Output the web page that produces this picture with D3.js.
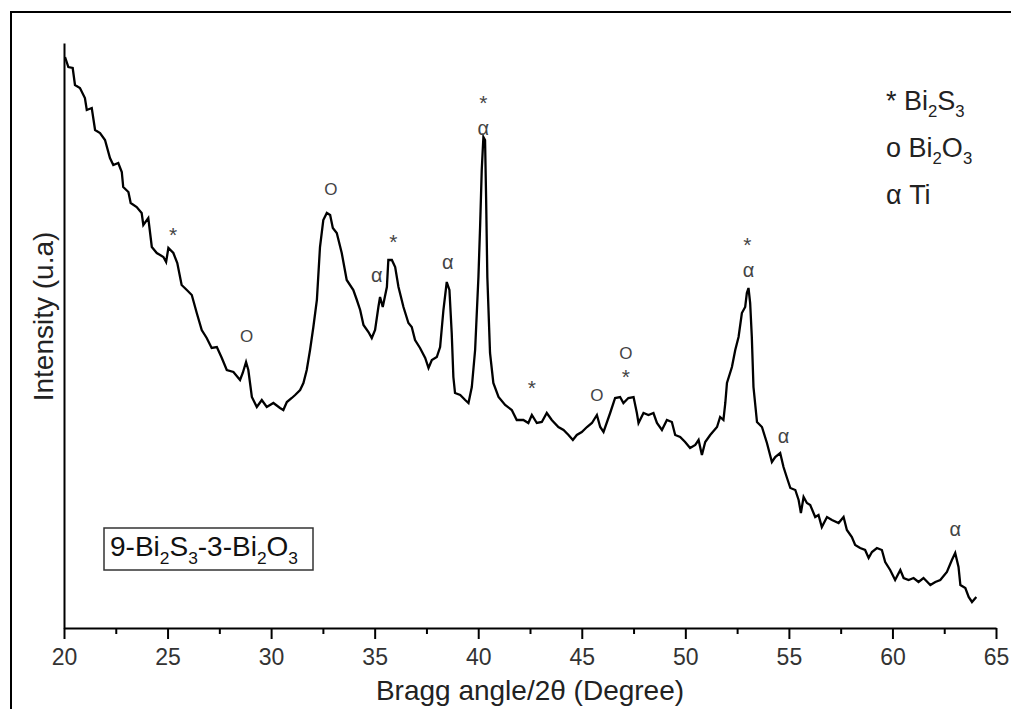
<!DOCTYPE html>
<html>
<head>
<meta charset="utf-8">
<script src="https://cdn.jsdelivr.net/npm/d3@7/dist/d3.min.js"></script>
<style>
  html, body { margin: 0; padding: 0; background: #fff; }
  svg { display: block; font-family: Arial, "Liberation Sans", sans-serif; }
</style>
</head>
<body>
<svg id="chart" width="1011" height="709"></svg>
<script>
// XRD pattern of the 9-Bi2S3-3-Bi2O3 sample (2θ in degrees, intensity in a.u.)
const angle = [
  20.05, 20.21, 20.42, 20.53, 20.77, 21.01, 21.10, 21.34, 21.50, 21.74,
  21.98, 22.22, 22.38, 22.62, 22.79, 22.86, 23.11, 23.22, 23.51, 23.75,
  23.83, 24.07, 24.24, 24.48, 24.80, 24.93, 25.04, 25.28, 25.47, 25.68,
  25.93, 26.17, 26.41, 26.65, 26.89, 27.13, 27.38, 27.62, 27.86, 28.18,
  28.50, 28.63, 28.79, 28.90, 29.07, 29.31, 29.55, 29.79, 30.11, 30.43,
  30.59, 30.76, 31.00, 31.16, 31.40, 31.56, 31.72, 31.88, 32.04, 32.21,
  32.36, 32.52, 32.69, 32.85, 32.98, 33.17, 33.41, 33.65, 33.97, 34.14,
  34.30, 34.46, 34.70, 34.86, 35.02, 35.18, 35.26, 35.39, 35.59, 35.66,
  35.83, 35.99, 36.15, 36.39, 36.63, 36.79, 36.95, 37.19, 37.44, 37.60,
  37.76, 38.00, 38.16, 38.32, 38.48, 38.61, 38.72, 38.80, 38.88, 39.13,
  39.37, 39.53, 39.69, 39.85, 40.01, 40.09, 40.17, 40.25, 40.33, 40.38,
  40.44, 40.57, 40.73, 40.98, 41.30, 41.62, 41.86, 42.18, 42.42, 42.59,
  42.83, 43.07, 43.31, 43.55, 43.87, 44.12, 44.36, 44.57, 44.76, 45.00,
  45.25, 45.49, 45.73, 45.89, 46.05, 46.37, 46.61, 46.85, 47.01, 47.25,
  47.50, 47.66, 47.74, 47.98, 48.22, 48.46, 48.63, 48.87, 49.11, 49.35,
  49.51, 49.75, 49.99, 50.23, 50.48, 50.64, 50.80, 50.96, 51.20, 51.53,
  51.68, 51.84, 51.93, 52.01, 52.25, 52.41, 52.57, 52.73, 52.89, 52.97,
  53.05, 53.13, 53.21, 53.29, 53.46, 53.70, 53.94, 54.18, 54.34, 54.58,
  54.74, 54.91, 55.07, 55.31, 55.47, 55.58, 55.71, 55.87, 56.03, 56.27,
  56.43, 56.59, 56.84, 57.08, 57.40, 57.64, 57.80, 58.04, 58.20, 58.44,
  58.68, 58.85, 59.01, 59.25, 59.49, 59.65, 59.89, 60.13, 60.38, 60.54,
  60.78, 61.02, 61.26, 61.50, 61.83, 62.07, 62.31, 62.63, 62.87, 63.03,
  63.19, 63.28, 63.52, 63.68, 63.84, 64.05
];
const intensity = [
  571, 561, 560, 543, 540, 530, 518, 520, 498, 495,
  488, 470, 463, 465, 456, 441, 436, 425, 421, 415,
  403, 410, 381, 375, 371, 366, 380, 375, 365, 343,
  338, 333, 315, 298, 290, 280, 281, 270, 258, 256,
  248, 255, 266, 258, 231, 221, 228, 221, 225, 220,
  218, 226, 230, 233, 238, 245, 258, 278, 301, 328,
  381, 408, 415, 413, 400, 395, 375, 348, 338, 328,
  318, 303, 296, 290, 298, 321, 331, 321, 341, 368,
  368, 361, 341, 321, 305, 301, 288, 280, 270, 260,
  268, 271, 281, 318, 346, 338, 295, 251, 235, 233,
  228, 225, 241, 278, 351, 401, 458, 491, 488, 431,
  351, 275, 245, 231, 223, 218, 208, 208, 205, 213,
  205, 206, 215, 208, 201, 198, 193, 188, 193, 196,
  201, 205, 213, 201, 196, 215, 230, 231, 225, 230,
  231, 215, 205, 215, 213, 215, 205, 198, 208, 206,
  193, 191, 186, 180, 183, 188, 173, 186, 193, 201,
  211, 208, 225, 245, 261, 278, 291, 315, 321, 335,
  340, 325, 291, 241, 206, 201, 185, 166, 171, 175,
  161, 150, 140, 138, 128, 115, 131, 125, 123, 111,
  113, 101, 111, 108, 105, 111, 98, 91, 83, 80,
  78, 70, 76, 80, 78, 66, 58, 48, 58, 50,
  48, 50, 46, 50, 43, 46, 48, 56, 68, 75,
  61, 43, 40, 31, 26, 31
];

// Axis ticks
const majorTicks = [20, 25, 30, 35, 40, 45, 50, 55, 60, 65];
const minorTicks = [22.5, 27.5, 32.5, 37.5, 42.5, 47.5, 52.5, 57.5, 62.5];

// Phase markers above the reflections
const markerSymbol = ["*", "o", "o", "α", "*", "α", "*", "α", "*", "o", "o", "*", "*", "α", "α", "α"];
const markerAngle  = [25.27, 28.82, 32.88, 35.10, 35.90, 38.53, 40.25, 40.25, 42.59, 45.73, 47.13, 47.13, 53.00, 53.05, 54.74, 63.03];
const markerLevel  = [398, 292, 439, 351, 391, 364, 530, 498, 245, 233, 275, 256, 388, 356, 190, 97];

// Legend entries: symbol, compound parts [text, isSubscript]
const legendSymbol = ["*", "o", "α"];
const legendName = [
  [["Bi", false], ["2", true], ["S", false], ["3", true]],
  [["Bi", false], ["2", true], ["O", false], ["3", true]],
  [["Ti", false]]
];
const sampleName = [["9-Bi", false], ["2", true], ["S", false], ["3", true], ["-3-Bi", false], ["2", true], ["O", false], ["3", true]];

const svg = d3.select("#chart");
const plotLeft = 64, plotRight = 996, plotTop = 43, plotBottom = 628;

// Outer figure frame
svg.append("rect")
  .attr("x", 11).attr("y", 12).attr("width", 1200).attr("height", 900)
  .attr("fill", "none").attr("stroke", "#000").attr("stroke-width", 2);

const x = d3.scaleLinear().domain([20, 65]).range([plotLeft, plotRight]);
const y = d3.scaleLinear().domain([0, 585]).range([plotBottom, plotTop]);

// Pattern
const pts = angle.map((a, i) => [a, intensity[i]]);
svg.append("path")
  .datum(pts)
  .attr("fill", "none")
  .attr("stroke", "#000")
  .attr("stroke-width", 2.3)
  .attr("stroke-linejoin", "miter")
  .attr("d", d3.line().x(d => x(d[0])).y(d => y(d[1])));

// Y axis (line only)
const yAxis = svg.append("g")
  .attr("transform", `translate(${plotLeft},0)`)
  .call(d3.axisLeft(y).tickValues([]).tickSizeOuter(0));
yAxis.select(".domain").attr("stroke", "#000").attr("stroke-width", 2);

// X axis minor ticks
const xMinor = svg.append("g")
  .attr("transform", `translate(0,${plotBottom})`)
  .call(d3.axisBottom(x).tickValues(minorTicks).tickSize(6).tickFormat(""));
xMinor.select(".domain").remove();
xMinor.selectAll(".tick line").attr("stroke", "#000").attr("stroke-width", 2);

// X axis major ticks and labels
const xAxis = svg.append("g")
  .attr("transform", `translate(0,${plotBottom})`)
  .call(d3.axisBottom(x).tickValues(majorTicks).tickSizeInner(11).tickSizeOuter(0).tickPadding(10).tickFormat(d3.format("d")));
xAxis.select(".domain").attr("stroke", "#000").attr("stroke-width", 2);
xAxis.selectAll(".tick line").attr("stroke", "#000").attr("stroke-width", 2);
xAxis.selectAll(".tick text")
  .attr("font-family", "Arial, 'Liberation Sans', sans-serif")
  .attr("font-size", 23).attr("fill", "#333");

// Axis titles
svg.append("text")
  .attr("x", (plotLeft + plotRight) / 2).attr("y", 700)
  .attr("text-anchor", "middle").attr("font-size", 28).attr("fill", "#222")
  .text("Bragg angle/2θ (Degree)");
svg.append("text")
  .attr("transform", `translate(53,${(plotTop + plotBottom) / 2 - 19}) rotate(-90)`)
  .attr("text-anchor", "middle").attr("font-size", 28).attr("fill", "#222")
  .text("Intensity (u.a)");

// Phase markers
const markerStyle = {
  "*": { size: 21, text: "*", shift: 12 },
  "o": { size: 17, text: "O", shift: 6 },
  "α": { size: 20, text: "α", shift: 5 }
};
svg.append("g").selectAll("text")
  .data(markerSymbol.map((s, i) => ({ s, a: markerAngle[i], v: markerLevel[i] })))
  .join("text")
  .attr("x", d => x(d.a))
  .attr("y", d => y(d.v) + markerStyle[d.s].shift)
  .attr("text-anchor", "middle")
  .attr("font-size", d => markerStyle[d.s].size)
  .attr("fill", "#444")
  .text(d => markerStyle[d.s].text);

// Writes text with subscript parts into a <text> element
function writeFormula(sel, parts, size) {
  parts.forEach(([t, sub], i) => {
    const prevSub = i > 0 && parts[i - 1][1];
    let dy = 0;
    if (sub && !prevSub) dy = size * 0.27;
    if (!sub && prevSub) dy = -size * 0.27;
    sel.append("tspan")
      .attr("dy", dy)
      .attr("font-size", sub ? size * 0.62 : size)
      .text(t);
  });
}

// Legend
const legend = svg.append("g");
legendSymbol.forEach((s, i) => {
  const t = legend.append("text")
    .attr("x", 886).attr("y", 110 + i * 47)
    .attr("font-size", 27).attr("fill", "#222");
  t.append("tspan").text(s + " ");
  writeFormula(t, legendName[i], 27);
});

// Sample name box
const box = svg.append("g");
const label = box.append("text")
  .attr("x", 110).attr("y", 556)
  .attr("font-size", 28).attr("fill", "#111");
writeFormula(label, sampleName, 28);
box.insert("rect", "text")
  .attr("x", 104).attr("y", 528).attr("width", 209).attr("height", 42)
  .attr("fill", "#fff").attr("stroke", "#333").attr("stroke-width", 1.5);
</script>
</body>
</html>
